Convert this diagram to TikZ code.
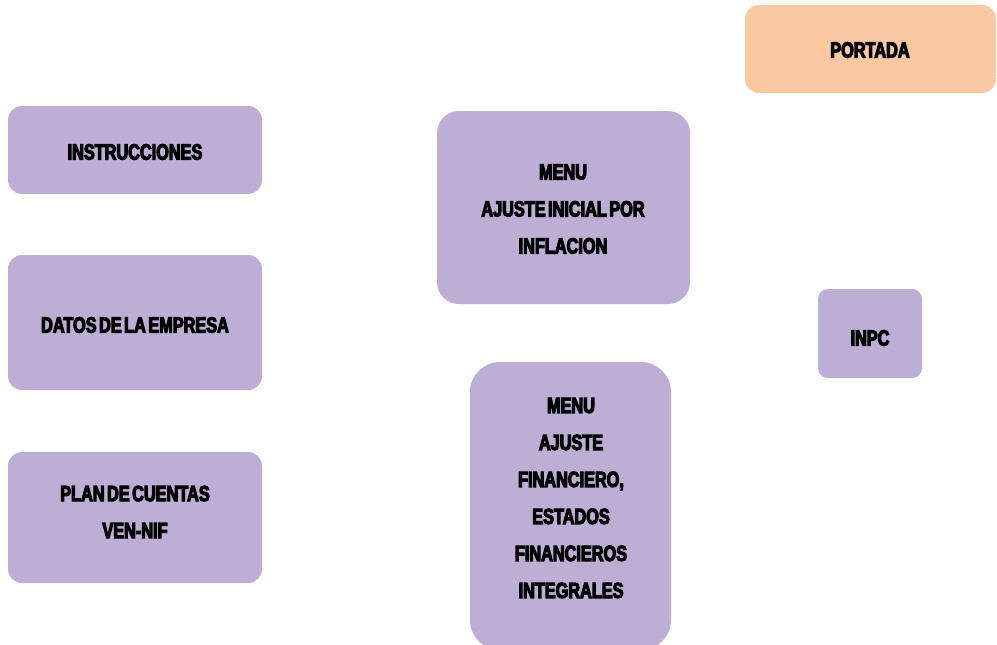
\documentclass[tikz,border=0pt]{standalone}
\usepackage{fontspec}
\setmainfont{Liberation Sans}[BoldFeatures={FakeStretch=0.74,FakeBold=5,WordSpace=0.55}]
\begin{document}
\begin{tikzpicture}[x=1pt,y=-1pt,
  purp/.style={fill=lilac,draw=none,rounded corners=14pt},
  oran/.style={fill=peach,draw=none,rounded corners=14pt},
  lbl/.style={font=\fontsize{22}{37}\selectfont\bfseries,align=center}]
\definecolor{lilac}{HTML}{BCAED4}
\definecolor{peach}{HTML}{FBC9A1}
\useasboundingbox (0,0) rectangle (997,645);
\fill[white] (0,0) rectangle (997,645);
\path[oran] (745,5) rectangle (996,93);
\node[lbl] (portada) at (870,50) {PORTADA};
\path[purp] (8,106) rectangle (262,194);
\node[lbl] (instr) at (135,152) {INSTRUCCIONES};
\path[purp] (8,255) rectangle (262,390);
\node[lbl] (datos) at (135,325) {DATOS DE LA EMPRESA};
\path[purp] (8,452) rectangle (262,583);
\node[lbl] (plan) at (135,512) {PLAN DE CUENTAS\\VEN-NIF};
\path[purp,rounded corners=22pt] (437,111) rectangle (690,304);
\node[lbl] (menu1) at (563,209) {MENU\\AJUSTE INICIAL POR\\INFLACION};
\path[purp,rounded corners=30pt] (470,362) rectangle (671,650);
\node[lbl] (menu2) at (571,498) {MENU\\AJUSTE\\FINANCIERO,\\ESTADOS\\FINANCIEROS\\INTEGRALES};
\path[purp,rounded corners=10pt] (818,289) rectangle (922,378);
\node[lbl] (inpc) at (870,338) {INPC};
\end{tikzpicture}
\end{document}
